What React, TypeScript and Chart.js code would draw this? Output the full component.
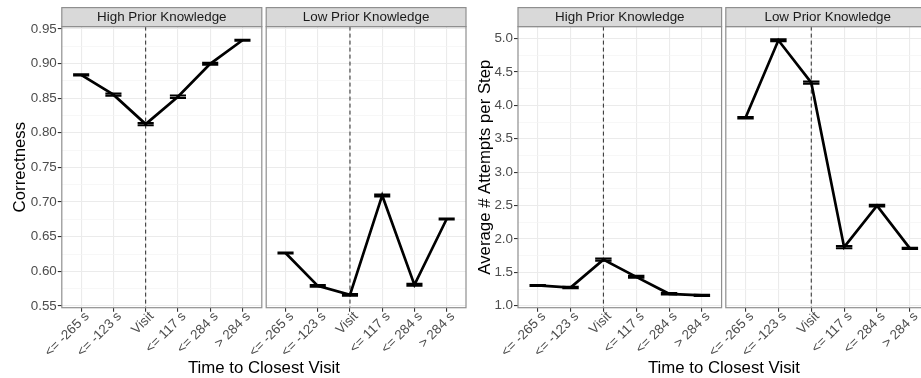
import React, { useEffect, useRef } from "react";
import { Chart, registerables } from "chart.js";

Chart.register(...registerables);

// ---------- data ----------
const timeCategories = ["<= -265 s", "<= -123 s", "Visit", "<= 117 s", "<= 284 s", "> 284 s"];
const facetLabels = ["High Prior Knowledge", "Low Prior Knowledge"];
const visitCategory = "Visit";

const correctnessHigh = [0.8835, 0.855, 0.8125, 0.852, 0.8995, 0.9335];
const correctnessHighErr = [0.0009, 0.0015, 0.0016, 0.0017, 0.0015, 0.0008];
const correctnessLow = [0.6265, 0.579, 0.566, 0.7095, 0.5805, 0.6755];
const correctnessLowErr = [0.0008, 0.0011, 0.0012, 0.0015, 0.0015, 0.0008];

const attemptsHigh = [1.303, 1.272, 1.69, 1.432, 1.178, 1.155];
const attemptsHighErr = [0.008, 0.012, 0.016, 0.015, 0.011, 0.008];
const attemptsLow = [3.815, 4.975, 4.34, 1.877, 2.497, 1.858];
const attemptsLowErr = [0.012, 0.016, 0.016, 0.016, 0.013, 0.01];

const correctnessTicks = [0.55, 0.6, 0.65, 0.7, 0.75, 0.8, 0.85, 0.9, 0.95];
const attemptsTicks = [1.0, 1.5, 2.0, 2.5, 3.0, 3.5, 4.0, 4.5, 5.0];

const correctnessTitle = "Correctness";
const attemptsTitle = "Average # Attempts per Step";
const xTitle = "Time to Closest Visit";

// ---------- layout / style ----------
const CANVAS_W = 940;
const CANVAS_H = 378;
const PANEL_TOP = 26.6;
const PANEL_BOTTOM = 307.7;
const STRIP_TOP = 7.6;
const FONT = "'Liberation Sans', Arial, Helvetica, sans-serif";
const TICK_SIZE = 13.4;
const TITLE_SIZE = 16.8;

function withMinor(ticks: number[]): number[] {
  const out: number[] = [];
  for (let i = 0; i < ticks.length; i++) {
    out.push(ticks[i]);
    if (i < ticks.length - 1) out.push((ticks[i] + ticks[i + 1]) / 2);
  }
  return out;
}

type Panel = {
  values: number[];
  errors: number[];
  majorTicks: number[];
  decimals: number;
  yMin: number;
  yMax: number;
  left: number;
  right: number;
  padLeft: number;
  showY: boolean;
  yTitle?: string;
  strip: string;
  xTitleCenter?: number;
};

const facetPlugin = {
  id: "facet",
  beforeDatasetsDraw(chart: any) {
    const { ctx, chartArea } = chart;
    const xs = chart.scales.x;
    const vx = xs.getPixelForValue(timeCategories.indexOf(visitCategory) + 1);
    ctx.save();
    ctx.strokeStyle = "#2a2a2a";
    ctx.lineWidth = 1;
    ctx.setLineDash([4, 3]);
    ctx.beginPath();
    ctx.moveTo(vx, chartArea.top);
    ctx.lineTo(vx, chartArea.bottom);
    ctx.stroke();
    ctx.restore();
  },
  afterDatasetsDraw(chart: any, _args: any, opts: any) {
    const { ctx, chartArea } = chart;
    const xs = chart.scales.x;
    const ys = chart.scales.y;
    const p: Panel = opts.panel;
    const half = xs.getPixelForValue(1.25) - xs.getPixelForValue(1);
    ctx.save();
    ctx.beginPath();
    ctx.rect(chartArea.left, chartArea.top, chartArea.right - chartArea.left, chartArea.bottom - chartArea.top);
    ctx.clip();
    ctx.strokeStyle = "#000";
    ctx.lineWidth = 2;
    p.values.forEach((v, i) => {
      const x = xs.getPixelForValue(i + 1);
      const yHi = ys.getPixelForValue(v + p.errors[i]);
      const yLo = ys.getPixelForValue(v - p.errors[i]);
      ctx.beginPath();
      ctx.moveTo(x - half, yHi);
      ctx.lineTo(x + half, yHi);
      ctx.moveTo(x, yHi);
      ctx.lineTo(x, yLo);
      ctx.moveTo(x - half, yLo);
      ctx.lineTo(x + half, yLo);
      ctx.stroke();
    });
    ctx.restore();
  },
  afterDraw(chart: any, _args: any, opts: any) {
    const { ctx, chartArea } = chart;
    const p: Panel = opts.panel;
    const w = chartArea.right - chartArea.left;
    ctx.save();
    ctx.strokeStyle = "#8f8f8f";
    ctx.lineWidth = 1.2;
    ctx.strokeRect(chartArea.left, chartArea.top, w, chartArea.bottom - chartArea.top);
    ctx.fillStyle = "#D9D9D9";
    ctx.fillRect(chartArea.left, STRIP_TOP, w, chartArea.top - STRIP_TOP);
    ctx.strokeRect(chartArea.left, STRIP_TOP, w, chartArea.top - STRIP_TOP);
    ctx.fillStyle = "#1A1A1A";
    ctx.font = `${TICK_SIZE}px ${FONT}`;
    ctx.textAlign = "center";
    ctx.textBaseline = "middle";
    ctx.fillText(p.strip, chartArea.left + w / 2, (STRIP_TOP + chartArea.top) / 2 + 0.5);
    if (p.xTitleCenter !== undefined) {
      ctx.fillStyle = "#000";
      ctx.font = `${TITLE_SIZE}px ${FONT}`;
      ctx.fillText(xTitle, p.xTitleCenter, 368.5);
    }
    ctx.restore();
  },
};

function buildConfig(p: Panel): any {
  const gridValues = withMinor(p.majorTicks);
  return {
    type: "line",
    data: {
      datasets: [
        {
          data: p.values.map((v, i) => ({ x: i + 1, y: v })),
          borderColor: "#000",
          borderWidth: 2.7,
          pointRadius: 0,
          tension: 0,
          fill: false,
        },
      ],
    },
    options: {
      animation: false,
      responsive: false,
      devicePixelRatio: 1,
      events: [],
      layout: {
        padding: { left: p.padLeft, right: CANVAS_W - p.right, top: PANEL_TOP, bottom: 0 },
      },
      plugins: {
        legend: { display: false },
        tooltip: { enabled: false },
        facet: { panel: p },
      },
      scales: {
        x: {
          type: "linear",
          min: 0.4,
          max: 6.6,
          afterBuildTicks: (s: any) => {
            s.ticks = timeCategories.map((_, i) => ({ value: i + 1 }));
          },
          afterFit: (s: any) => {
            s.height = CANVAS_H - PANEL_BOTTOM;
          },
          grid: {
            color: "#EBEBEB",
            lineWidth: 1.1,
            drawTicks: true,
            tickLength: 4,
            tickColor: "#333",
          },
          border: { display: false },
          ticks: {
            autoSkip: false,
            minRotation: 45,
            maxRotation: 45,
            padding: -3,
            labelOffset: 6,
            color: "#4D4D4D",
            font: { family: FONT, size: TICK_SIZE },
            callback: (_v: any, i: number) => timeCategories[i],
          },
        },
        y: {
          type: "linear",
          min: p.yMin,
          max: p.yMax,
          afterBuildTicks: (s: any) => {
            s.ticks = gridValues.map((v) => ({ value: v }));
          },
          afterFit: (s: any) => {
            s.width = p.left - p.padLeft;
          },
          grid: {
            color: (c: any) => (c.index % 2 === 0 ? "#EBEBEB" : "#F4F4F4"),
            lineWidth: (c: any) => (c.index % 2 === 0 ? 1.1 : 0.7),
            drawTicks: true,
            tickLength: 4,
            tickColor: (c: any) => (p.showY && c.index % 2 === 0 ? "#333" : "rgba(0,0,0,0)"),
          },
          border: { display: false },
          ticks: {
            display: p.showY,
            autoSkip: false,
            padding: 1,
            color: "#4D4D4D",
            font: { family: FONT, size: TICK_SIZE },
            callback: (v: any, i: number) => (i % 2 === 0 ? Number(v).toFixed(p.decimals) : ""),
          },
          title: {
            display: !!p.yTitle,
            text: p.yTitle || "",
            color: "#000",
            font: { family: FONT, size: TITLE_SIZE },
            padding: { top: 10, bottom: 0 },
          },
        },
      },
    },
    plugins: [facetPlugin],
  };
}

const panels: Panel[] = [
  {
    values: correctnessHigh, errors: correctnessHighErr, majorTicks: correctnessTicks, decimals: 2,
    yMin: 0.5475, yMax: 0.9532, left: 61.8, right: 261.8, padLeft: 0, showY: true,
    yTitle: correctnessTitle, strip: facetLabels[0], xTitleCenter: 264,
  },
  {
    values: correctnessLow, errors: correctnessLowErr, majorTicks: correctnessTicks, decimals: 2,
    yMin: 0.5475, yMax: 0.9532, left: 266.2, right: 466, padLeft: 0, showY: false,
    strip: facetLabels[1],
  },
  {
    values: attemptsHigh, errors: attemptsHighErr, majorTicks: attemptsTicks, decimals: 1,
    yMin: 0.97, yMax: 5.18, left: 518, right: 721.6, padLeft: 465, showY: true,
    yTitle: attemptsTitle, strip: facetLabels[0], xTitleCenter: 724,
  },
  {
    values: attemptsLow, errors: attemptsLowErr, majorTicks: attemptsTicks, decimals: 1,
    yMin: 0.97, yMax: 5.18, left: 725.8, right: 929.6, padLeft: 0, showY: false,
    strip: facetLabels[1],
  },
];

function PanelCanvas({ panel }: { panel: Panel }) {
  const ref = useRef<HTMLCanvasElement | null>(null);
  useEffect(() => {
    if (!ref.current) return;
    const chart = new Chart(ref.current, buildConfig(panel));
    return () => chart.destroy();
  }, [panel]);
  return (
    <canvas
      ref={ref}
      width={CANVAS_W}
      height={CANVAS_H}
      style={{ position: "absolute", left: 0, top: 0, width: CANVAS_W, height: CANVAS_H }}
    />
  );
}

export default function App() {
  return (
    <div
      style={{
        position: "fixed",
        left: 0,
        top: 0,
        width: 921,
        height: 378,
        overflow: "hidden",
        background: "#fff",
      }}
    >
      {panels.map((p, i) => (
        <PanelCanvas key={i} panel={p} />
      ))}
    </div>
  );
}
